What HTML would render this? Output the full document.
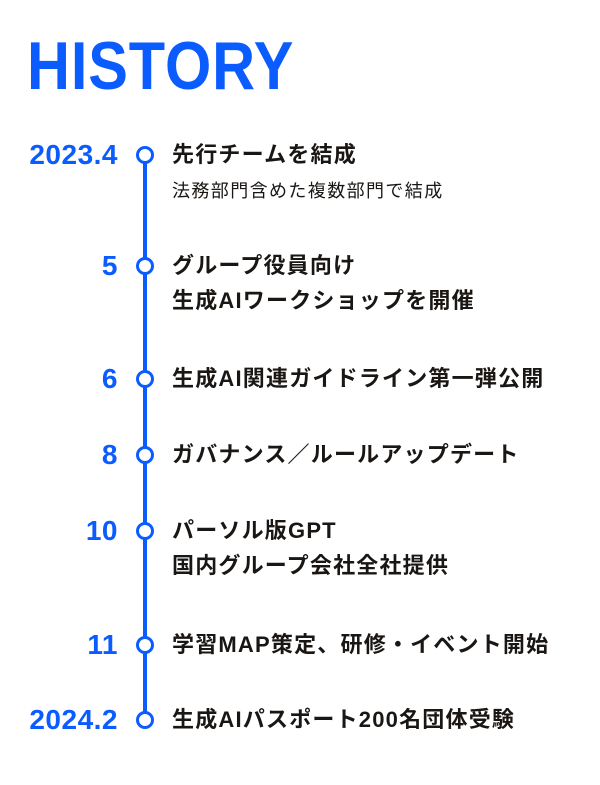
<!DOCTYPE html>
<html><head><meta charset="utf-8"><style>
body{margin:0;width:600px;height:785px;background:#fff;position:relative;overflow:hidden;font-family:"Liberation Sans","Noto Sans CJK JP",sans-serif}
.t{position:absolute;left:27px;top:28px;font-size:68px;font-weight:bold;color:#0b5cff;transform:scaleX(0.875);transform-origin:left top;letter-spacing:1px;line-height:76px}
.line{position:absolute;left:143px;top:155px;width:3.5px;height:566px;background:#0b5cff}
.c{position:absolute;left:136px;width:12px;height:12px;border:3.5px solid #0b5cff;border-radius:50%;background:#fff}
.d{position:absolute;right:482px;font-size:28px;font-weight:bold;color:#0b5cff;line-height:30px;white-space:nowrap;letter-spacing:0.5px}
.j{position:absolute;left:172px;font-size:22px;letter-spacing:1.2px;font-weight:bold;color:#1a1613;line-height:30px;white-space:nowrap}
.s{position:absolute;left:172px;font-size:18px;letter-spacing:1.4px;color:#1a1613;line-height:24px;white-space:nowrap}
</style></head><body>
<div class="t">HISTORY</div>
<div class="line"></div>
<div class="c" style="top:146px"></div><div class="d" style="top:140px">2023.4</div><div class="j" style="top:140px">先行チームを結成</div><div class="s" style="top:179px">法務部門含めた複数部門で結成</div>
<div class="c" style="top:257px"></div><div class="d" style="top:251px">5</div><div class="j" style="top:251px">グループ役員向け</div><div class="j" style="top:286px">生成AIワークショップを開催</div>
<div class="c" style="top:370px"></div><div class="d" style="top:364px">6</div><div class="j" style="top:364px">生成AI関連ガイドライン第一弾公開</div>
<div class="c" style="top:446px"></div><div class="d" style="top:440px">8</div><div class="j" style="top:440px">ガバナンス／ルールアップデート</div>
<div class="c" style="top:522px"></div><div class="d" style="top:516px">10</div><div class="j" style="top:516px">パーソル版GPT</div><div class="j" style="top:551px">国内グループ会社全社提供</div>
<div class="c" style="top:636px"></div><div class="d" style="top:630px">11</div><div class="j" style="top:630px">学習MAP策定、研修・イベント開始</div>
<div class="c" style="top:711px"></div><div class="d" style="top:705px">2024.2</div><div class="j" style="top:705px">生成AIパスポート200名団体受験</div>
</body></html>
